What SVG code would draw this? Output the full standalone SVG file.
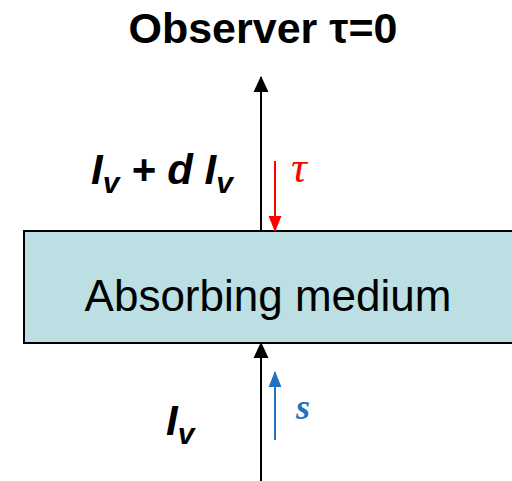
<svg xmlns="http://www.w3.org/2000/svg" width="512" height="481" viewBox="0 0 512 481">
<style>
.ttl{font-family:"Liberation Sans",Arial,sans-serif;font-weight:bold;font-size:43px;fill:#000}
.lab{font-family:"Liberation Sans",Arial,sans-serif;font-size:44px;fill:#000}
.iv{font-family:"Liberation Sans",Arial,sans-serif;font-weight:bold;font-style:italic;font-size:42px;fill:#000}
.sub{font-size:30px}
.ln{stroke:#000;stroke-width:2;fill:none}
</style>
<defs>
<marker id="ab" markerWidth="16" markerHeight="16" refX="14" refY="7" orient="auto" markerUnits="userSpaceOnUse" viewBox="0 0 15 14"><path d="M0,0 L15,7 L0,14 z" fill="#000"/></marker>
<marker id="ar" markerWidth="16" markerHeight="16" refX="14" refY="6" orient="auto" markerUnits="userSpaceOnUse" viewBox="0 0 15 12"><path d="M0,0 L15,6 L0,12 z" fill="#ff0000"/></marker>
<marker id="abl" markerWidth="16" markerHeight="16" refX="14" refY="6" orient="auto" markerUnits="userSpaceOnUse" viewBox="0 0 15 12"><path d="M0,0 L15,6 L0,12 z" fill="#1f73c2"/></marker>
</defs>
<text class="ttl" x="263" y="43" text-anchor="middle">Observer τ=0</text>
<g id="medium">
<rect x="24" y="231" width="490" height="112" fill="#bbdfe3" stroke="#000" stroke-width="2"/>
<text class="lab" x="268" y="311" text-anchor="middle">Absorbing medium</text>
</g>
<g id="connectors">
<line class="ln" x1="261" y1="231" x2="261" y2="77" marker-end="url(#ab)"/>
<line class="ln" x1="261" y1="481" x2="261" y2="343" marker-end="url(#ab)"/>
<line x1="275" y1="161" x2="275" y2="231" stroke="#ff0000" stroke-width="2" marker-end="url(#ar)"/>
<line x1="275" y1="440" x2="275" y2="372" stroke="#1f73c2" stroke-width="2" marker-end="url(#abl)"/>
</g>
<g id="labels">
<text class="iv" x="91" y="184">I<tspan class="sub" dy="9">v</tspan><tspan dy="-9"> + d I</tspan><tspan class="sub" dy="9">v</tspan></text>
<text class="iv" x="166" y="435">I<tspan class="sub" dy="9">v</tspan></text>
<text x="291" y="182" font-family="'Liberation Serif',serif" font-style="italic" font-size="44" fill="#ff0000">τ</text>
<text x="296" y="419" font-family="'Liberation Serif',serif" font-style="italic" font-weight="bold" font-size="36" fill="#1f73c2">s</text>
</g>
</svg>
